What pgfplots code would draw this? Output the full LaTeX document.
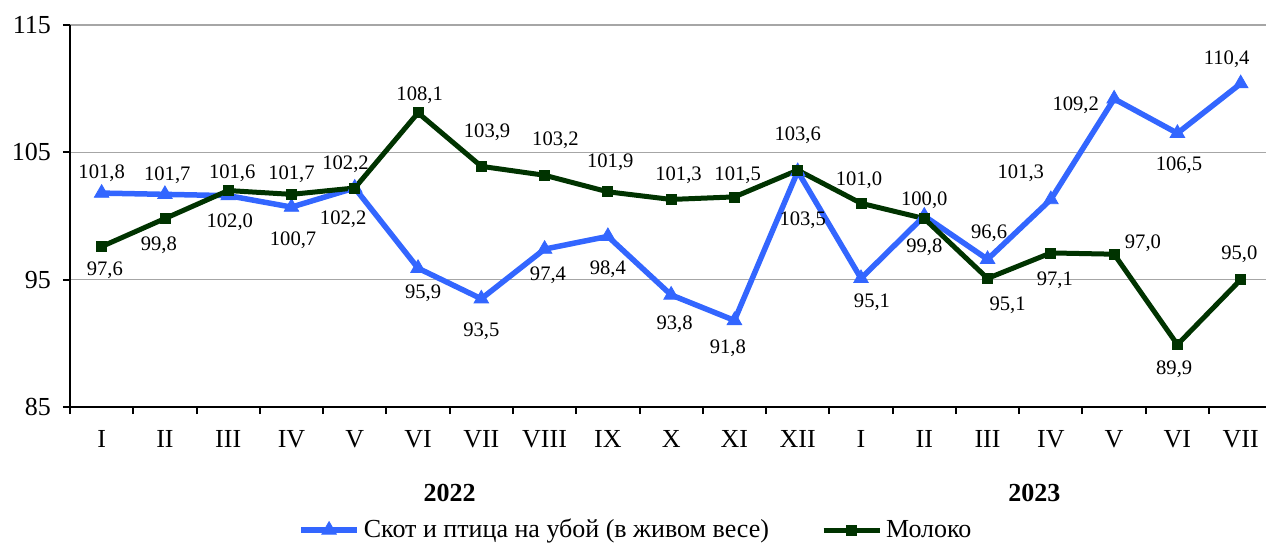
\documentclass[border=0pt]{standalone}
\usepackage{fontspec}
\setmainfont{Liberation Serif}
\usepackage{pgfplots}
\pgfplotsset{compat=1.18}
\usepackage{pgfplotstable}
\definecolor{cblue}{RGB}{51,102,255}
\definecolor{cgreen}{RGB}{0,51,0}
\definecolor{cgrid}{RGB}{166,166,166}

\pgfplotstableread{
x y lx ly
0 101.8 0 9.7
1 101.7 1.2 9.4
2 101.6 2 11
3 100.7 0.8 -16.4
4 102.2 -5.8 -15.5
5 95.9 2.5 -12.5
6 93.5 0 -16.4
7 97.4 1.7 -13
8 98.4 0 -16.3
9 93.8 1.7 -14.5
10 91.8 -3.3 -13.8
11 103.5 2.5 -24.3
12 95.1 5.5 -12
13 100.0 0 8
14 96.6 0.8 13
15 101.3 -15 13
16 109.2 -19.2 -3
17 106.5 0.8 -16.2
18 110.4 -7 12
}\bluedata

\pgfplotstableread{
x y lx ly
0 97.6 1.6 -11.7
1 99.8 -3 -13.2
2 102.0 0.8 -15.6
3 101.7 0 10.1
4 102.2 -4.6 12
5 108.1 0.8 9
6 103.9 2.9 17.3
7 103.2 5.4 17.6
8 101.9 1.2 15
9 101.3 3.7 11.9
10 101.5 1.6 11
11 103.6 0 17.6
12 101.0 -1 11.7
13 99.8 0 -14.1
14 95.1 10 -13.6
15 97.1 2 -13.9
16 97.0 14.4 5.6
17 89.9 -1.6 -12.2
18 95.0 -0.7 12.8
}\greendata

\begin{document}
\begin{tikzpicture}
\path[use as bounding box] (-35pt,-67.5pt) rectangle (598pt,203.5pt);
\begin{axis}[
  at={(0,0)}, anchor=south west,
  scale only axis, width=598pt, height=191pt,
  xmin=-0.5, xmax=18.4, ymin=85, ymax=115,
  clip=false,
  /pgf/number format/assume math mode=true,
  axis x line*=bottom, axis y line*=left,
  axis line style={line width=1pt, -},
  ytick={85,95,105,115},
  ymajorgrids, grid style={cgrid, line width=0.6pt},
  xtick={0,...,18},
  xticklabels={I,II,III,IV,V,VI,VII,VIII,IX,X,XI,XII,I,II,III,IV,V,VI,VII},
  minor xtick={-0.5,0.5,...,17.5},
  major x tick style={draw=none},
  tick align=outside,
  major tick length=3.5pt, minor tick length=3.5pt,
  tick style={line width=1pt, black},
  tick label style={font=\fontsize{13}{15}\selectfont},
  xticklabel style={yshift=-4.5pt},
  yticklabel style={xshift=-2.5pt},
  point meta=y,
  visualization depends on={\thisrow{lx} \as \lx},
  visualization depends on={\thisrow{ly} \as \ly},
  nodes near coords={\pgfmathprintnumber[fixed,fixed zerofill,precision=1,use comma]{\pgfplotspointmeta}},
  every node near coord/.append style={anchor=center, inner sep=0pt, xshift=\lx pt, yshift=\ly pt, font=\fontsize{10.3}{12}\selectfont, text=black},
  legend image code/.code={\draw[mark repeat=2,mark phase=2,#1] plot coordinates {(0pt,0pt) (14pt,0pt) (28pt,0pt)};},
  legend style={at={(0.474,-0.322)}, anchor=center, draw=none, fill=none, legend columns=2,
    font=\fontsize{13}{15}\selectfont, /tikz/every even column/.append style={column sep=24pt}},
]
\addplot[cblue, line width=2.75pt, mark=triangle*, mark size=4.2pt, mark options={solid, line width=0.4pt}] table[x=x,y=y] {\bluedata};
\addlegendentry{Скот и птица на убой (в живом весе)}
\addplot[cgreen, line width=2.5pt, mark=square*, mark size=2.5pt, mark options={solid, line width=0.4pt}] table[x=x,y=y] {\greendata};
\addlegendentry{Молоко}
\node[font=\bfseries\fontsize{13}{15}\selectfont] at (axis cs:5.5,85) [yshift=-42.75pt] {2022};
\node[font=\bfseries\fontsize{13}{15}\selectfont] at (axis cs:14.74,85) [yshift=-42.75pt] {2023};
\end{axis}
\end{tikzpicture}
\end{document}
